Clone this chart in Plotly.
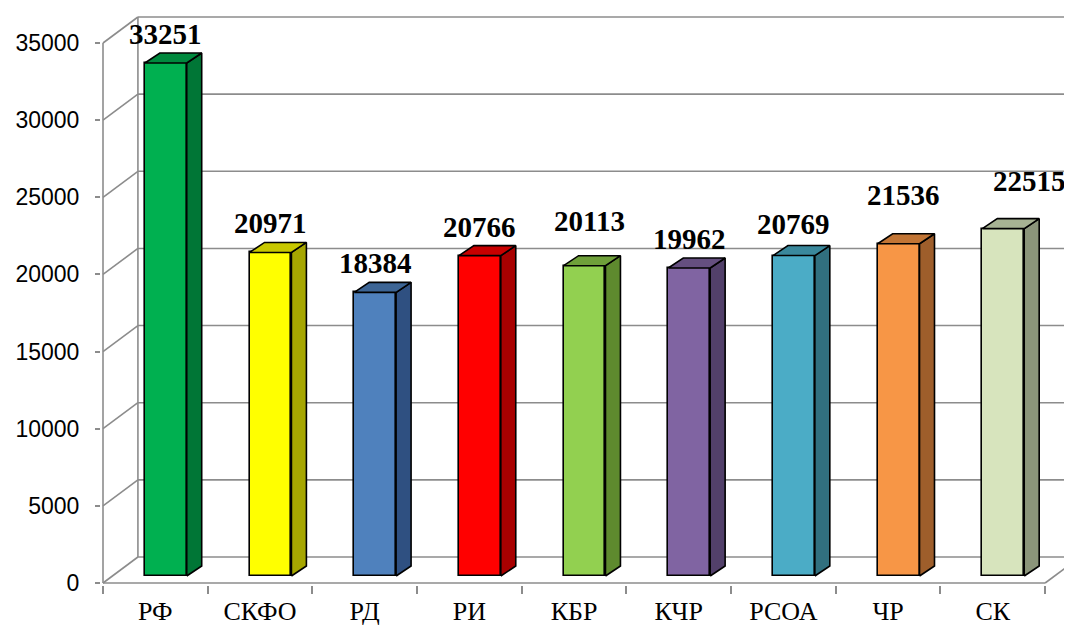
import plotly.graph_objects as go

categories = ["РФ", "СКФО", "РД", "РИ", "КБР", "КЧР", "РСОА", "ЧР", "СК"]
values = [33251, 20971, 18384, 20766, 20113, 19962, 20769, 21536, 22515]
front_colors = ["#00B050", "#FFFF00", "#4F81BD", "#FF0000", "#92D050",
                "#8064A2", "#4BACC6", "#F79646", "#D7E4BD"]
top_colors = ["#00893E", "#C8C800", "#3D6595", "#C80000", "#6FA03A",
              "#654F80", "#3A889C", "#C27535", "#A7B393"]
side_colors = ["#007636", "#A6A600", "#2F5081", "#A80000", "#5E8A2E",
               "#52406A", "#31707F", "#9E5E2B", "#8B957A"]
y_ticks = [0, 5000, 10000, 15000, 20000, 25000, 30000, 35000]
y_tick_text = [str(t) for t in y_ticks]
# manual label nudges (pixels) as in the original chart
label_dx = [0, 0, 0, 0, 5, 0, 0, 5, 26]
label_dy = [0, 0, 0, 0, 16, 0, 3, 20, 19]

# geometry (pixel-derived scales)
CAT_PX = 104.9
K = 540 / 35000.0          # px per value unit
WALL_DX = 35 / CAT_PX
WALL_DY = 26 / K
BAR_DX = 15 / CAT_PX
BAR_DY = 10 / K
BAR_SHIFT = 0.10
BAR_W = 0.40
BAR_BASE = 7 / K
GRID = "#8C8C8C"

n = len(categories)
xs = list(range(n))

fig = go.Figure()

# walls / gridlines
shapes = []
x0 = -0.5
x1 = n - 0.5
for t in y_ticks:
    shapes.append(dict(type="line", x0=x0, y0=t, x1=x0 + WALL_DX, y1=t + WALL_DY))
    shapes.append(dict(type="line", x0=x0 + WALL_DX, y0=t + WALL_DY,
                       x1=x1 + WALL_DX, y1=t + WALL_DY))
shapes.append(dict(type="line", x0=x0, y0=0, x1=x0, y1=y_ticks[-1]))
shapes.append(dict(type="line", x0=x0 + WALL_DX, y0=WALL_DY,
                   x1=x0 + WALL_DX, y1=y_ticks[-1] + WALL_DY))
shapes.append(dict(type="line", x0=x0, y0=0, x1=x1, y1=0))
shapes.append(dict(type="line", x0=x1, y0=0, x1=x1 + WALL_DX, y1=WALL_DY))
for s in shapes:
    s.update(xref="x", yref="y", layer="below", line=dict(color=GRID, width=1.6))

# front faces
fig.add_trace(go.Bar(
    x=[i + BAR_SHIFT for i in xs], y=values, base=[BAR_BASE] * n, width=BAR_W,
    marker=dict(color=front_colors, line=dict(color="black", width=1.6)),
    showlegend=False, hoverinfo="skip"))

# side and top faces
for i, v in enumerate(values):
    xl = i + BAR_SHIFT - BAR_W / 2
    xr = i + BAR_SHIFT + BAR_W / 2
    yb = BAR_BASE
    yt = BAR_BASE + v
    fig.add_trace(go.Scatter(
        x=[xr, xr + BAR_DX, xr + BAR_DX, xr, xr],
        y=[yb, yb + BAR_DY, yt + BAR_DY, yt, yb],
        mode="lines", fill="toself", fillcolor=side_colors[i],
        line=dict(color="black", width=1.6), showlegend=False, hoverinfo="skip"))
    fig.add_trace(go.Scatter(
        x=[xl, xr, xr + BAR_DX, xl + BAR_DX, xl],
        y=[yt, yt, yt + BAR_DY, yt + BAR_DY, yt],
        mode="lines", fill="toself", fillcolor=top_colors[i],
        line=dict(color="black", width=1.6), showlegend=False, hoverinfo="skip"))

annotations = []
for i, v in enumerate(values):
    annotations.append(dict(
        x=i + BAR_SHIFT, y=BAR_BASE + v + BAR_DY, xref="x", yref="y",
        text="<b>%d</b>" % v, showarrow=False, yanchor="bottom",
        xshift=label_dx[i], yshift=1 + label_dy[i],
        font=dict(family="Liberation Serif", size=29, color="black")))

# the page body has an 8px default margin; the figure is sized to fit inside it
fig.update_layout(
    width=1064, height=618,
    margin=dict(l=93, r=0, t=0, b=41, autoexpand=False),
    paper_bgcolor="white", plot_bgcolor="white",
    shapes=shapes, annotations=annotations,
    bargap=0,
    xaxis=dict(range=[-0.5 - 2 / CAT_PX, -0.5 + 971 / CAT_PX], automargin=False,
               tickmode="array", tickvals=xs, ticktext=categories,
               ticks="", showgrid=False, zeroline=False, showline=False,
               ticklabelstandoff=8,
               tickfont=dict(family="Liberation Serif", size=26, color="black"),
               minor=dict(tick0=-0.5, dtick=1, ticks="outside", ticklen=8,
                          tickcolor=GRID, tickwidth=1.6, showgrid=False),
               fixedrange=True),
    yaxis=dict(range=[-2 / K, 575 / K], automargin=False,
               tickmode="array", tickvals=y_ticks, ticktext=y_tick_text,
               ticks="outside", ticklen=5, tickcolor=GRID, tickwidth=1.6,
               showgrid=False, zeroline=False, showline=False,
               ticklabelstandoff=11,
               tickfont=dict(family="Liberation Sans", size=23, color="black"),
               fixedrange=True),
)

fig.write_html("out.html")
